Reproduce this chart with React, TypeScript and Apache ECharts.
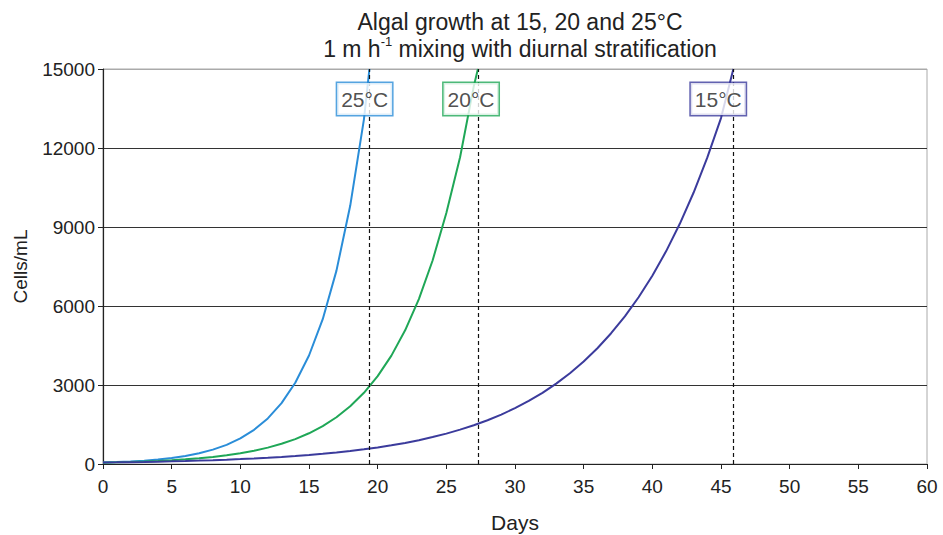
import React, { useEffect, useRef } from "react";
import * as echarts from "echarts";

const FONT = "Arial, 'Liberation Sans', Helvetica, sans-serif";

const days25 = [0, 1, 2, 3, 4, 5, 6, 7, 8, 9, 10, 11, 12, 13, 14, 15, 16, 17, 18, 19, 19.4];
const cells25 = [54, 72, 96, 128, 171, 229, 305, 408, 545, 727, 971, 1297, 1731, 2311, 3086, 4120, 5500, 7344, 9805, 13090, 15000];

const days20 = [0, 1, 2, 3, 4, 5, 6, 7, 8, 9, 10, 11, 12, 13, 14, 15, 16, 17, 18, 19, 20, 21, 22, 23, 24, 25, 26, 27, 27.3];
const cells20 = [50, 62, 76, 94, 116, 143, 176, 218, 268, 331, 408, 504, 621, 767, 946, 1167, 1440, 1776, 2191, 2703, 3335, 4115, 5077, 6263, 7727, 9533, 11650, 14350, 15000];

const days15 = [0, 1, 2, 3, 4, 5, 6, 7, 8, 9, 10, 11, 12, 13, 14, 15, 16, 17, 18, 19, 20, 21, 22, 23, 24, 25, 26, 27, 28, 29, 30, 31, 32, 33, 34, 35, 36, 37, 38, 39, 40, 41, 42, 43, 44, 45, 45.9];
const cells15 = [55, 62, 70, 79, 90, 101, 114, 129, 146, 165, 186, 210, 237, 268, 303, 342, 386, 436, 493, 556, 628, 710, 801, 905, 1022, 1154, 1304, 1472, 1662, 1877, 2120, 2394, 2704, 3053, 3448, 3894, 4397, 4966, 5608, 6333, 7152, 8076, 9121, 10300, 11632, 13136, 15000];

const seriesNames = ["25°C", "20°C", "15°C"];
const seriesColors = ["#2a8dd8", "#1fa757", "#3b3b9c"];
const endDays = [19.4, 27.3, 45.9];
const labelPos = [[19.05, 13860], [26.8, 13860], [44.8, 13860]];

const yTicks = { min: 0, max: 15000, interval: 3000 };
const xTicks = { min: 0, max: 60, interval: 5 };

export default function App() {
  const ref = useRef<HTMLDivElement>(null);
  useEffect(() => {
    if (!ref.current) return;
    const chart = echarts.init(ref.current, undefined, { renderer: "svg" });
    const allDays = [days25, days20, days15];
    const allCells = [cells25, cells20, cells15];
    const lineSeries = allDays.map((ds, i) => ({
      type: "line",
      name: seriesNames[i],
      data: ds.map((d, j) => [d, allCells[i][j]]),
      symbol: "none",
      lineStyle: { color: seriesColors[i], width: 2 },
      itemStyle: { color: seriesColors[i] },
      z: 3,
      markLine: {
        silent: true,
        symbol: "none",
        label: { show: false },
        lineStyle: { color: "#111", type: [4, 3], width: 1.2 },
        data: [[{ coord: [endDays[i], 0] }, { coord: [endDays[i], 15000] }]],
      },
    }));
    const labelSeries = labelPos.map((p, i) => ({
      type: "scatter",
      data: [p],
      symbolSize: 0,
      z: 10,
      silent: true,
      label: {
        show: true,
        position: "inside",
        formatter: seriesNames[i],
        backgroundColor: "#fff",
        borderColor: seriesColors[i],
        borderWidth: 1.5,
        padding: [4, 4],
        fontSize: 21,
        lineHeight: 24,
        color: "#222",
        fontFamily: FONT,
      },
    }));
    chart.setOption({
      animation: false,
      backgroundColor: "#fff",
      title: {
        left: 515,
        textAlign: "center",
        top: 3,
        text: "Algal growth at 15, 20 and 25°C\n1 m h{sup|-1} mixing with diurnal stratification",
        textStyle: {
          fontFamily: FONT,
          fontSize: 23,
          fontWeight: "normal",
          color: "#222",
          lineHeight: 27,
          rich: {
            sup: { fontSize: 13, verticalAlign: "top", color: "#222", fontFamily: FONT, lineHeight: 16 },
          },
        },
      },
      grid: {
        left: 103,
        right: 16,
        top: 69,
        bottom: 71,
        outerBoundsMode: "none",
        containLabel: false,
        show: true,
        borderColor: "#aaa",
        borderWidth: 1,
      },
      xAxis: {
        type: "value",
        ...xTicks,
        name: "Days",
        nameLocation: "middle",
        nameGap: 48,
        nameTextStyle: { fontFamily: FONT, fontSize: 21, color: "#222" },
        axisLine: { show: true, lineStyle: { color: "#222", width: 1.2 } },
        axisTick: { show: true, length: 5, lineStyle: { color: "#222" } },
        axisLabel: { fontFamily: FONT, fontSize: 19, color: "#222", margin: 13 },
        splitLine: { show: false },
      },
      yAxis: {
        type: "value",
        ...yTicks,
        name: "Cells/mL",
        nameLocation: "middle",
        nameGap: 73,
        nameRotate: 90,
        nameTextStyle: { fontFamily: FONT, fontSize: 19, color: "#222" },
        axisLine: { show: true, lineStyle: { color: "#222", width: 1.2 } },
        axisTick: { show: true, length: 5, lineStyle: { color: "#222" } },
        axisLabel: { fontFamily: FONT, fontSize: 19, color: "#222", margin: 8, formatter: (v: number) => String(v) },
        splitLine: {
          show: true,
          lineStyle: { color: ["#333", "#333", "#333", "#333", "#333", "#aaa"], width: 1.2 },
        },
      },
      series: [...lineSeries, ...labelSeries],
    });
    return () => chart.dispose();
  }, []);
  return (
    <div
      ref={ref}
      style={{ position: "fixed", left: 0, top: 0, width: 943, height: 535, background: "#fff" }}
    />
  );
}
